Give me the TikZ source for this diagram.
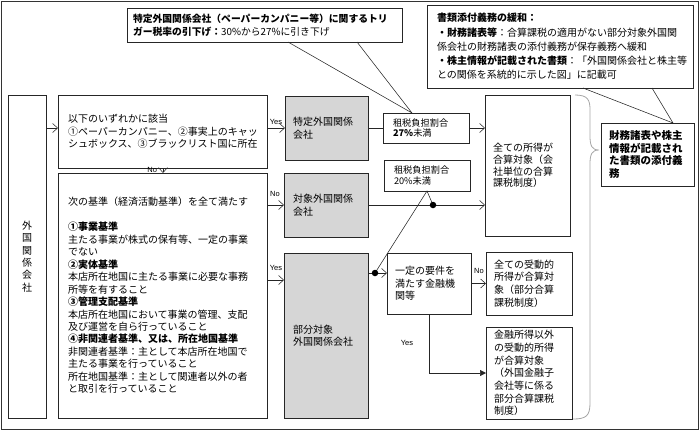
\documentclass[tikz,border=0pt]{standalone}
\usepackage{fontspec}
\setmainfont{Noto Sans CJK JP}
\newfontfamily\lat{Liberation Sans}
\usetikzlibrary{arrows.meta,calc}
\begin{document}
\begin{tikzpicture}[x=1pt,y=-1pt,
  every node/.style={inner sep=0pt, outer sep=0pt},
  box/.style={draw=black!85, line width=0.65pt, fill=white, anchor=north west, align=left, inner ysep=0pt, font=\fontsize{10}{12.5}\selectfont},
  greybox/.style={box, fill=black!16},
  smallbox/.style={box, font=\fontsize{9.2}{10.5}\selectfont},
  lbl/.style={font=\lat\fontsize{7.5}{8}\selectfont},
  conn/.style={draw=black!85, line width=0.55pt},
  arr/.style={conn, -{Straight Barb[length=5pt,width=9pt]}},
  farr/.style={conn, -{Triangle[length=6pt,width=6pt]}},
  dotnode/.style={circle, fill=black, minimum size=6.5pt},
  bracepath/.style={draw=black!35, line width=0.8pt}
]
\useasboundingbox (0,0) rectangle (700,431);
\draw[draw=black!80, line width=0.8pt] (1,1) rectangle (698,429);

% left box
\node[box, text width=38pt, inner xsep=0pt, minimum height=323pt, align=center, font=\fontsize{10}{12.4}\selectfont] (gk) at (8,95) {外\\国\\関\\係\\会\\社};

% box1
\node[box, text width=189pt, inner xsep=10pt, minimum height=73pt] (b1) at (58,95)
 {以下のいずれかに該当\\①ペーパーカンパニー、②事実上のキャッ\\シュボックス、③ブラックリスト国に所在};

% box2
\node[box, text width=189pt, inner xsep=10pt, minimum height=245pt, font=\fontsize{10}{12.46}\selectfont] (b2) at (58,173)
 {次の基準（経済活動基準）を全て満たす\\[12.46pt]
 {\bfseries ①事業基準}\\主たる事業が株式の保有等、一定の事業\\でない\\
 {\bfseries ②実体基準}\\本店所在地国に主たる事業に必要な事務\\所等を有すること\\
 {\bfseries ③管理支配基準}\\本店所在地国において事業の管理、支配\\及び運営を自ら行っていること\\
 {\bfseries ④非関連者基準、又は、所在地国基準}\\非関連者基準：主として本店所在地国で\\主たる事業を行っていること\\
 所在地国基準：主として関連者以外の者\\と取引を行っていること};

% grey boxes
\node[greybox, text width=67pt, inner xsep=8pt, minimum height=64pt] (tk) at (285,96) {特定外国関係\\会社};
\node[greybox, text width=66pt, inner xsep=9pt, minimum height=64pt] (ts) at (284,173) {対象外国関係\\会社};
\node[greybox, text width=66pt, inner xsep=9pt, minimum height=165pt] (bb) at (284,253) {部分対象\\外国関係会社};

% small rate boxes
\node[smallbox, text width=66pt, inner xsep=10pt, minimum height=30pt] (r27) at (383,113) {租税負担割合\\{\bfseries 27\%}未満};
\node[smallbox, text width=66pt, inner xsep=10pt, minimum height=31pt] (r20) at (384,160) {租税負担割合\\20\%未満};

% result boxes
\node[box, text width=69pt, inner xsep=8pt, minimum height=141pt, font=\fontsize{10}{11.8}\selectfont] (all) at (485,95) {全ての所得が\\合算対象（会\\社単位の合算\\課税制度）};
\node[box, text width=68pt, inner xsep=8pt, minimum height=61pt] (it) at (387,253) {一定の要件を\\満たす金融機\\関等};
\node[box, text width=70pt, inner xsep=8pt, minimum height=63pt, font=\fontsize{10}{12.6}\selectfont] (jd) at (486,252) {全ての受動的\\所得が合算対\\象（部分合算\\課税制度）};
\node[box, text width=70pt, inner xsep=8pt, minimum height=92pt, font=\fontsize{10}{12.7}\selectfont] (kn) at (486,327) {金融所得以外\\の受動的所得\\が合算対象\\（外国金融子\\会社等に係る\\部分合算課税\\制度）};
\node[box, text width=77pt, inner xsep=8pt, minimum height=63pt, font=\fontsize{10.5}{12.7}\selectfont\bfseries] (zm) at (601,123) {財務諸表や株主\\情報が記載され\\た書類の添付義\\務};

% callouts
\node[box, text width=263pt, inner xsep=6pt, minimum height=34pt, font=\fontsize{9.8}{13}\selectfont] (c1) at (127,8)
 {{\bfseries 特定外国関係会社（ペーパーカンパニー等）に関するトリ}\\{\bfseries ガー税率の引下げ：}30\%から27\%に引き下げ};
\node[box, text width=246pt, inner xsep=10pt, minimum height=83pt, font=\fontsize{10}{14.2}\selectfont] (c2) at (427,5)
 {{\bfseries 書類添付義務の緩和：}\\{\bfseries ・財務諸表等}：合算課税の適用がない部分対象外国関\\係会社の財務諸表の添付義務が保存義務へ緩和\\{\bfseries ・株主情報が記載された書類}：「外国関係会社と株主等\\との関係を系統的に示した図」に記載可};

% callout pointers
\coordinate (t1) at ($(r27.north west)+(29,0)$);
\coordinate (t2) at ($(zm.north west)+(72,0)$);
\draw[conn] ($(c1.south west)+(161,0)$) -- (t1) -- ($(c1.south west)+(230,0)$);
\draw[conn] ($(c2.south west)+(156,0)$) -- (t2) -- ($(c2.south west)+(225,0)$);

% brace
\draw[bracepath] (575,95) .. controls (588,95) and (590,100) .. (590,110) -- (590,136)
  .. controls (590,146) and (592,150) .. (599,150)
  .. controls (592,150) and (590,154) .. (590,164) -- (590,403)
  .. controls (590,416) and (586,419) .. (573,419);

% connectors
\draw[arr] (gk.east |- 0,128) -- (b1.west |- 0,128);
\draw[arr] (b1.east |- 0,128) -- (tk.west |- 0,128);
\node[lbl, anchor=south] (ly1) at (276,125) {Yes};
\draw[arr] (b1.south -| 163,0) -- (b2.north -| 163,0);
\node[lbl, anchor=east] (ln1) at (157,170) {No};
\draw[arr] (b2.east |- ts.west) -- (ts.west);
\node[lbl, anchor=south] (ln2) at (275,197) {No};
\draw[arr] (b2.east |- 0,280) -- (bb.west |- 0,280);
\node[lbl, anchor=south] (ly2) at (276,271) {Yes};

\draw[conn] (tk.east) -- (r27.west);
\draw[arr] (r27.east) -- (all.west |- r27.east);
\coordinate (dp1) at (433,205);
\coordinate (dp2) at (375,273);
\draw[arr] (ts.east) -- (all.west |- ts.east);
\draw[arr] (bb.east |- dp2) -- (it.west |- dp2);
\draw[conn] (dp1) -- ($(r20.south west)+(43,0)$) -- (dp2);
\node[dotnode] (d1) at (dp1) {};
\node[dotnode] (d2) at (dp2) {};

\draw[arr] (it.east |- jd.west) -- (jd.west);
\node[lbl, anchor=south] (ln3) at (479,274) {No};
\draw[farr] (it.south) |- (kn.west);
\node[lbl] (ly3) at (407,343) {Yes};
\end{tikzpicture}
\end{document}
